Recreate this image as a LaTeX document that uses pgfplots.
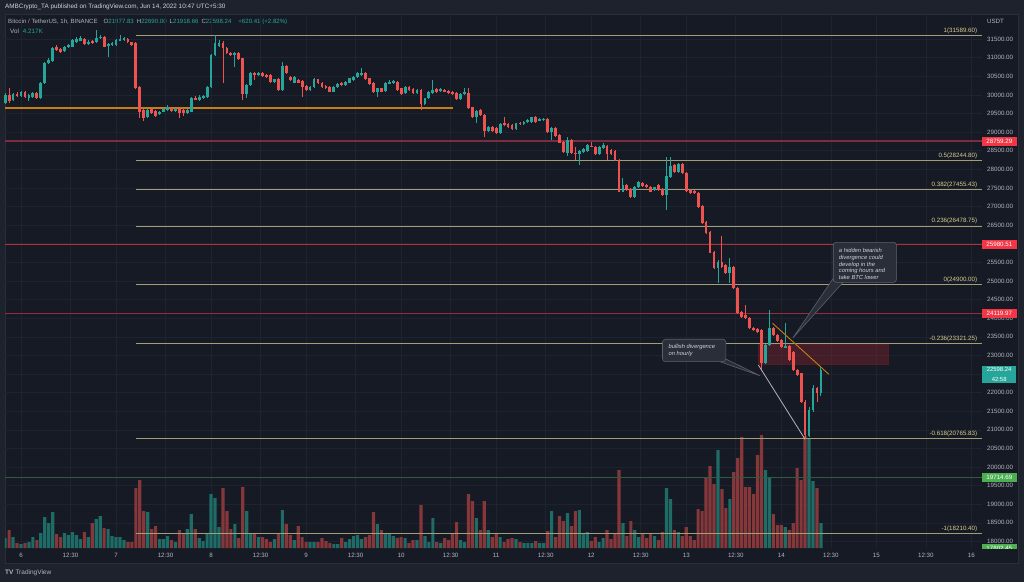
\documentclass[border=0pt]{standalone}
\usepackage{fontspec}
\setmainfont{Liberation Sans}
\usepackage{pgfplots}
\usepackage{pgfplotstable}
\pgfplotsset{compat=1.18}
\definecolor{outerbg}{HTML}{1E222D}
\definecolor{chartbg}{HTML}{161A25}
\definecolor{gridc}{HTML}{1F2330}
\definecolor{labgrey}{HTML}{B2B5BE}
\definecolor{hdr}{HTML}{D1D4DC}
\definecolor{cup}{HTML}{26A69A}
\definecolor{cdn}{HTML}{EF5350}
\definecolor{vup}{HTML}{1F6B66}
\definecolor{vdn}{HTML}{86373A}
\definecolor{fibline}{HTML}{A29F76}
\definecolor{fibtext}{HTML}{D6CD8E}
\definecolor{lvlone}{HTML}{7A2D3C}
\definecolor{lvltwo}{HTML}{B22E3A}
\definecolor{lvlthree}{HTML}{9A2B38}
\definecolor{lvlgreen}{HTML}{2F5B3F}
\definecolor{orangeL}{HTML}{C97D14}
\definecolor{lblred}{HTML}{F23645}
\definecolor{lblgreen}{HTML}{4CAF50}
\definecolor{boxfill}{HTML}{2A2E39}
\definecolor{boxdraw}{HTML}{5D606B}
\definecolor{zone}{HTML}{7B2530}
\newcommand{\fs}{\fontsize{6.2}{7}\selectfont}
\newcommand{\fcall}{\fontsize{5.8}{6.9}\selectfont\itshape}

\pgfplotstableread{
k o h l c v
-4 29794 30050 29760 30000 10
-3 30000 30179 29776 29847 18
-2 29865 30060 29840 30027 11
-1 30027 30070 29950 29973 5
0 29973 30120 29950 30090 4
1 30090 30110 29930 29955 5
2 29910 30030 29847 30000 6
3 29955 30080 29930 30045 11
4 30045 30070 29890 29910 8
5 29910 30340 29890 30313 15
6 30313 30880 30290 30851 31
7 30851 30990 30820 30941 25
8 30920 31290 30900 31254 36
9 31281 31344 31180 31209 14
10 31236 31260 31140 31165 11
11 31174 31310 31150 31281 15
12 31281 31380 31260 31344 13
13 31300 31510 31280 31478 16
14 31433 31560 31410 31505 13
15 31460 31580 31440 31523 9
16 31496 31530 31340 31371 16
17 31371 31470 31350 31433 11
18 31451 31480 31360 31389 25
19 31433 31747 31410 31523 29
20 31523 31600 31500 31568 32
21 31550 31580 31280 31300 20
22 31317 31400 31030 31371 19
23 31335 31420 31310 31389 12
24 31344 31510 31320 31478 11
25 31460 31613 31440 31505 11
26 31478 31560 31460 31523 8
27 31505 31540 31390 31415 6
28 31415 31430 31320 31344 6
29 31389 31420 30150 30179 60
30 30224 30250 29373 29552 68
31 29597 29620 29300 29373 37
32 29400 29620 29380 29597 36
33 29615 29650 29480 29507 19
34 29578 29600 29410 29435 22
35 29489 29570 29460 29552 9
36 29552 29640 29530 29615 9
37 29597 29720 29580 29668 12
38 29641 29660 29550 29570 8
39 29570 29650 29550 29623 6
40 29615 29640 29373 29507 18
41 29597 29620 29440 29525 15
42 29507 29620 29480 29597 19
43 29552 29940 29530 29910 34
44 29910 29960 29860 29884 19
45 29863 29990 29840 29955 10
46 29908 30000 29890 29973 7
47 29955 30230 29930 30206 15
48 30206 31100 30190 31075 54
49 31075 31613 31050 31389 50
50 31317 31480 31290 31407 21
51 31407 31440 30313 31254 60
52 31254 31280 31090 31120 37
53 31138 31160 31050 31075 19
54 31075 31160 30761 31138 24
55 31120 31150 30930 30958 10
56 30985 31000 29865 30027 61
57 30027 30290 29920 30269 37
58 30269 30610 30240 30582 15
59 30582 30620 30400 30537 14
60 30537 30630 30510 30600 11
61 30582 30610 30490 30510 11
62 30537 30560 30470 30493 9
63 30537 30560 30330 30358 6
64 30358 30440 30330 30421 9
65 30421 30450 30110 30134 15
66 30134 30896 30110 30779 38
67 30779 30800 30560 30582 24
68 30493 30520 30380 30403 13
69 30331 30520 30310 30493 8
70 30403 30430 30310 30331 22
71 30385 30410 29955 30224 11
72 30242 30260 30110 30134 6
73 30134 30250 30110 30224 6
74 30206 30450 30190 30421 6
75 30421 30440 30290 30313 6
76 30331 30350 30200 30224 10
77 30242 30260 30150 30179 7
78 30224 30250 30070 30090 5
79 30090 30250 30070 30224 4
80 30224 30320 30200 30295 4
81 30313 30340 30240 30269 10
82 30260 30380 30240 30350 6
83 30331 30470 30310 30448 9
84 30400 30520 30380 30493 12
85 30493 30610 30470 30582 13
86 30537 30717 30510 30582 9
87 30582 30610 30400 30421 11
88 30448 30470 30270 30296 13
89 30331 30350 30060 30090 36
90 30090 30200 29955 30179 24
91 30179 30200 30070 30090 18
92 30116 30350 30090 30331 14
93 30313 30390 30290 30358 14
94 30313 30400 30290 30376 12
95 30340 30370 30110 30134 10
96 30179 30200 30000 30027 11
97 30045 30230 30020 30206 10
98 30206 30230 30110 30134 5
99 30152 30180 30020 30045 8
100 30063 30160 30040 30134 8
101 30134 30160 29597 29758 43
102 29758 29930 29730 29910 12
103 29910 30110 29890 30090 6
104 30045 30403 30020 30134 30
105 30152 30180 30060 30080 6
106 30107 30200 30080 30152 5
107 30134 30160 30070 30090 10
108 30116 30140 30040 30063 8
109 30090 30110 30000 30027 15
110 30045 30070 29860 29884 26
111 29884 30050 29860 30027 8
112 30027 30200 30000 30090 6
113 30063 30179 29620 29641 54
114 29668 29690 29380 29400 47
115 29400 29600 29238 29579 30
116 29597 29620 29440 29462 18
117 29462 29480 28880 29041 47
118 29041 29160 29010 29131 18
119 29131 29160 29010 29041 11
120 29104 29130 28950 28970 14
121 28988 29240 28960 29220 11
122 29238 29400 29170 29193 6
123 29220 29240 29120 29149 9
124 29202 29220 29050 29077 10
125 29077 29260 29050 29238 9
126 29256 29280 29200 29220 6
127 29220 29300 29200 29283 5
128 29283 29350 29260 29328 5
129 29283 29420 29260 29400 5
130 29400 29430 29260 29283 7
131 29310 29370 29290 29346 5
132 29328 29390 29310 29364 5
133 29346 29370 28990 29014 17
134 29014 29130 28790 29104 37
135 29104 29130 28870 28898 11
136 28925 28950 28700 28719 32
137 28745 28770 28450 28477 27
138 28432 28880 28360 28790 35
139 28790 28810 28410 28432 22
140 28450 28611 28253 28414 37
141 28414 28530 28118 28504 38
142 28477 28570 28450 28540 15
143 28504 28680 28480 28656 16
144 28629 28745 28590 28611 7
145 28611 28640 28390 28414 11
146 28414 28640 28390 28611 6
147 28566 28700 28540 28656 10
148 28629 28660 28253 28414 18
149 28522 28540 28390 28414 9
150 28504 28530 28230 28253 14
151 28253 28270 27380 27401 78
152 27401 27760 27380 27580 25
153 27580 27600 27420 27446 12
154 27464 27490 27240 27267 27
155 27267 27560 27240 27536 18
156 27536 27700 27510 27670 11
157 27643 27670 27530 27554 14
158 27580 27600 27490 27518 10
159 27536 27560 27380 27401 15
160 27446 27540 27420 27518 12
161 27580 27600 27420 27446 8
162 27464 27490 27290 27312 16
163 27312 28342 26909 27823 60
164 27805 28342 27780 28091 49
165 28118 28140 27910 27939 18
166 27939 28170 27910 28145 16
167 28136 28160 27870 27894 12
168 27912 27930 27400 27428 21
169 27446 27470 27330 27357 12
170 27428 27450 27330 27357 8
171 27375 27400 26970 26998 39
172 27016 27040 26540 26568 37
173 26595 26620 26270 26299 70
174 26326 26350 25740 25762 82
175 25789 25810 25320 25341 64
176 25341 25560 24938 25520 98
177 25520 26200 25360 25386 59
178 25430 25460 25200 25224 40
179 25224 25609 24937 25386 49
180 25386 25410 24780 24803 76
181 24803 24830 24120 24149 90
182 24176 24200 24010 24041 111
183 24086 24354 23970 23997 61
184 23997 24020 23700 23728 61
185 23746 23770 23660 23683 54
186 23701 23730 23610 23638 93
187 23683 23710 22610 22787 113
188 22787 23300 22760 23279 78
189 23279 24220 23250 23728 70
190 23728 23760 23520 23549 34
191 23549 23580 23370 23396 23
192 23414 23440 23210 23235 23
193 23217 23862 23190 23253 21
194 23253 23280 22850 22877 18
195 23100 23130 22580 22608 25
196 22608 22640 22450 22473 80
197 22518 22540 21730 21757 68
198 21757 21800 20750 20850 112
199 20830 21600 20800 21530 110
200 21530 22200 21480 22115 67
201 22115 22150 21757 21981 60
202 21977.83 22690 21918.66 22598.24 25
}\candles

\pgfplotsset{
  chartax/.style={
    scale only axis, width=977pt, height=534pt,
    at={(5pt,34pt)}, anchor=south west,
    xmin=-4.04, xmax=242.68,
    axis line style={draw=none},
    tick style={draw=none},
    major tick length=0pt,
  },
  upc/.style={restrict expr to domain={\thisrow{c}-\thisrow{o}}{0:100000}},
  dnc/.style={restrict expr to domain={\thisrow{c}-\thisrow{o}}{-100000:-0.001}},
  candle/.style n args={2}{forget plot, draw=none, mark=none,
    error bars/y dir=both, error bars/y explicit, error bars/error mark=none,
    error bars/error bar style={draw=#1, line width=#2}},
}
\tikzset{
  fibl/.style={anchor=south east, inner sep=0pt, font=\fs, text=fibtext, yshift=1.6pt},
  plab/.style={anchor=west, text=white, font=\fs, minimum width=34.3pt, minimum height=9pt, inner sep=0pt},
}

\begin{document}
\begin{tikzpicture}
\useasboundingbox (0,0) rectangle (1024pt,582pt);
\fill[outerbg] (0,0) rectangle (1024pt,582pt);
\fill[chartbg] (5pt,19pt) rectangle (1018pt,568pt);
\draw[boxfill, line width=0.6pt] (5pt,19pt) rectangle (1018pt,568pt);

% header texts
\node[anchor=west, inner sep=0pt, font=\fontsize{6.35}{7}\selectfont, text=hdr] at (5pt,575pt)
  {AMBCrypto\_TA published on TradingView.com, Jun 14, 2022 10:47 UTC+5:30};
\node[anchor=west, inner sep=0pt, font=\fontsize{6.1}{7}\selectfont] at (8pt,560pt)
  {\color{labgrey}Bitcoin / TetherUS, 1h, BINANCE\hspace{6pt}O\color{cup}21977.83\hspace{3pt}\color{labgrey}H\color{cup}22690.00\hspace{3pt}\color{labgrey}L\color{cup}21918.66\hspace{3pt}\color{labgrey}C\color{cup}22598.24\hspace{7pt}+620.41 (+2.82\%)};
\node[anchor=west, inner sep=0pt, font=\fontsize{6.3}{7}\selectfont] at (10pt,551pt)
  {\color{labgrey}Vol\hspace{4pt}\color{cup}4.217K};
\node[anchor=west, inner sep=0pt, font=\fontsize{6.5}{7}\selectfont, text=labgrey] at (5pt,9pt)
  {\textbf{TV}\hspace{2pt}TradingView};

% axis A: grid and tick labels
\begin{axis}[chartax, ymin=17823, ymax=32177,
  ytick={18000,18500,...,31500},
  scaled y ticks=false,
  yticklabel pos=right,
  yticklabel style={anchor=west, inner sep=0pt, xshift=5pt, font=\fs, text=labgrey},
  /pgf/number format/fixed, /pgf/number format/fixed zerofill,
  /pgf/number format/precision=2, /pgf/number format/1000 sep={},
  /pgf/number format/assume math mode=true,
  xtick={0,12.5,24,36.5,48,60.5,72,84.5,96,108.5,120,132.5,144,156.5,168,180.5,192,204.5,216,228.5,240},
  xticklabels={6,12:30,7,12:30,8,12:30,9,12:30,10,12:30,11,12:30,12,12:30,13,12:30,14,12:30,15,12:30,16},
  xticklabel style={anchor=north, inner sep=0pt, yshift=-5pt, font=\fs, text=labgrey},
  grid=major, major grid style={gridc, line width=0.6pt},
]
\end{axis}

% axis B: volume
\begin{axis}[chartax, ymin=0, ymax=534, xtick=\empty, ytick=\empty]
\addplot[ybar, bar width=0.8, bar shift=0pt, fill=vup, draw=none, upc] table[x=k, y=v] {\candles};
\addplot[ybar, bar width=0.8, bar shift=0pt, fill=vdn, draw=none, dnc] table[x=k, y=v] {\candles};
\end{axis}

% axis C: price
\begin{axis}[chartax, ymin=17823, ymax=32177, xtick=\empty, ytick=\empty, clip=false]
% horizontal levels
\addplot[draw=orangeL, line width=1.8pt] coordinates {(-4.04,29659) (109.1,29659)};
\addplot[draw=lvlone, line width=1.3pt] coordinates {(-4.04,28759.29) (242.68,28759.29)};
\addplot[draw=lvltwo, line width=1.0pt] coordinates {(-4.04,25980.51) (242.68,25980.51)};
\addplot[draw=lvlthree, line width=1.2pt] coordinates {(-4.04,24119.97) (242.68,24119.97)};
\addplot[draw=lvlgreen, line width=1.4pt] coordinates {(-4.04,19714.69) (242.68,19714.69)};
\addplot[draw=fibline, line width=0.9pt] coordinates {(29.04,31589.60) (242.68,31589.60)};
\addplot[draw=fibline, line width=0.9pt] coordinates {(29.04,28244.80) (242.68,28244.80)};
\addplot[draw=fibline, line width=0.9pt] coordinates {(29.04,27455.43) (242.68,27455.43)};
\addplot[draw=fibline, line width=0.9pt] coordinates {(29.04,26478.75) (242.68,26478.75)};
\addplot[draw=fibline, line width=0.9pt] coordinates {(29.04,24900.00) (242.68,24900.00)};
\addplot[draw=fibline, line width=0.9pt] coordinates {(29.04,23321.25) (242.68,23321.25)};
\addplot[draw=fibline, line width=0.9pt] coordinates {(29.04,20765.83) (242.68,20765.83)};
\addplot[draw=fibline, line width=0.9pt] coordinates {(29.04,18210.40) (242.68,18210.40)};
% zone
\fill[zone, opacity=0.45] (axis cs:186.1,22761) rectangle (axis cs:218.9,23288);
\draw[zone!70!black, line width=0.5pt] (axis cs:186.1,22761) rectangle (axis cs:218.9,23288);

% candles: wicks then bodies
\addplot[upc, candle={cup}{0.9pt}]
  table[x=k, y expr={(\thisrow{h}+\thisrow{l})/2}, y error expr={(\thisrow{h}-\thisrow{l})/2}] {\candles};
\addplot[dnc, candle={cdn}{0.9pt}]
  table[x=k, y expr={(\thisrow{h}+\thisrow{l})/2}, y error expr={(\thisrow{h}-\thisrow{l})/2}] {\candles};
\addplot[upc, candle={cup}{2.8pt}]
  table[x=k, y expr={(\thisrow{o}+\thisrow{c})/2}, y error expr={max(abs(\thisrow{c}-\thisrow{o})/2,14)}] {\candles};
\addplot[dnc, candle={cdn}{2.8pt}]
  table[x=k, y expr={(\thisrow{o}+\thisrow{c})/2}, y error expr={max(abs(\thisrow{c}-\thisrow{o})/2,14)}] {\candles};

% trend lines
\addplot[draw=orangeL, line width=0.9pt] coordinates {(189.8,23863) (204.0,22492)};
\addplot[draw=labgrey, line width=0.8pt] coordinates {(186.2,22742) (198.0,20745)};

% fib labels
\node[fibl] at (axis cs:241.5,31589.60) {1(31589.60)};
\node[fibl] at (axis cs:241.5,28244.80) {0.5(28244.80)};
\node[fibl] at (axis cs:241.5,27455.43) {0.382(27455.43)};
\node[fibl] at (axis cs:241.5,26478.75) {0.236(26478.75)};
\node[fibl] at (axis cs:241.5,24900.00) {0(24900.00)};
\node[fibl] at (axis cs:241.5,23321.25) {-0.236(23321.25)};
\node[fibl] at (axis cs:241.5,20765.83) {-0.618(20765.83)};
\node[fibl] at (axis cs:241.5,18210.40) {-1(18210.40)};

% callout 1
\filldraw[fill=boxfill, draw=boxdraw, line width=0.6pt] (axis cs:176.5,22831) -- (axis cs:186.6,22454) -- (axis cs:178.0,22903) -- cycle;
\filldraw[fill=boxfill, draw=boxdraw, line width=0.6pt, rounded corners=3pt] (axis cs:162.0,23433) rectangle (axis cs:178.0,22831);
\node[anchor=north west, inner sep=0pt, align=left, font=\fcall, text=hdr] at (axis cs:163.5,23300) {bullish divergence\\on hourly};

% callout 2
\filldraw[fill=boxfill, draw=boxdraw, line width=0.6pt] (axis cs:205.3,25100) -- (axis cs:194.9,23468) -- (axis cs:207.6,24965) -- cycle;
\filldraw[fill=boxfill, draw=boxdraw, line width=0.6pt, rounded corners=3pt] (axis cs:205.1,26040) rectangle (axis cs:221.1,24965);
\node[anchor=north west, inner sep=0pt, align=left, font=\fcall, text=hdr] at (axis cs:206.5,25890) {a hidden bearish\\divergence could\\develop in the\\coming hours and\\take BTC lower};

% price axis labels
\node[anchor=west, inner sep=0pt, font=\fs, text=labgrey] at (axis cs:243.9,31970) {USDT};
\node[plab, fill=lblred] at (axis cs:242.68,28759.29) {28759.29};
\node[plab, fill=lblred] at (axis cs:242.68,25980.51) {25980.51};
\node[plab, fill=lblred] at (axis cs:242.68,24119.97) {24119.97};
\node[plab, fill=lblgreen] at (axis cs:242.68,19714.69) {19714.69};
\fill[cup] (axis cs:242.68,22714) rectangle (axis cs:251.34,22255);
\node[anchor=center, inner sep=0pt, text height=4.2pt, text depth=0pt, font=\fontsize{5.9}{6}\selectfont, text=white] at (axis cs:247.01,22615) {22598.24};
\node[anchor=center, inner sep=0pt, text height=4.2pt, text depth=0pt, font=\fontsize{5.9}{6}\selectfont, text=white] at (axis cs:247.01,22360) {42:58};
\begin{scope}
\clip (axis cs:242.68,17823) rectangle (axis cs:252,17930);
\node[plab, fill=lblgreen] at (axis cs:242.68,17802) {17802.45};
\end{scope}
\end{axis}
\end{tikzpicture}
\end{document}
